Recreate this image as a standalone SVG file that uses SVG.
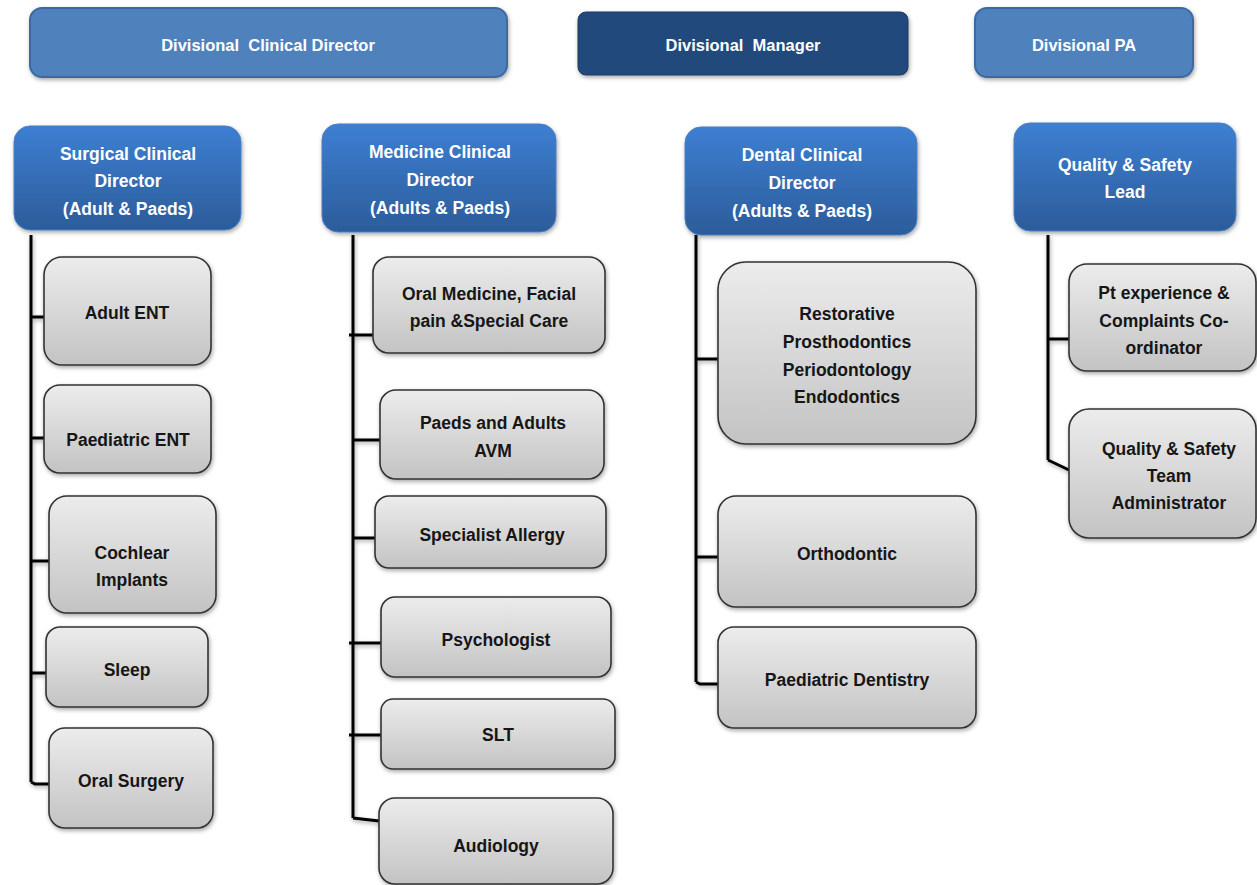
<svg xmlns="http://www.w3.org/2000/svg" width="1257" height="885" viewBox="0 0 1257 885">
<defs>
<linearGradient id="gBlue" x1="0" y1="0" x2="0" y2="1">
<stop offset="0" stop-color="#3d7fd2"/>
<stop offset="1" stop-color="#2c5c9a"/>
</linearGradient>
<linearGradient id="gGray" x1="0" y1="0" x2="0" y2="1">
<stop offset="0" stop-color="#ececec"/>
<stop offset="1" stop-color="#c3c3c3"/>
</linearGradient>
<filter id="sh" x="-10%" y="-10%" width="125%" height="130%">
<feDropShadow dx="1" dy="2" stdDeviation="2" flood-color="#000" flood-opacity="0.35"/>
</filter>
</defs>
<style>
.top{fill:#4f81bd;stroke:#3b6aa3;stroke-width:2}
.mgr{fill:#21487b;stroke:#1b3c66;stroke-width:1}
.hd{fill:url(#gBlue);stroke:#4a7fc2;stroke-width:1}
.ch{fill:url(#gGray);stroke:#333;stroke-width:1.6}
.tt{font-family:"Liberation Sans",Arial,sans-serif;font-weight:bold;font-size:16.5px;fill:#fff;text-anchor:middle;white-space:pre}
.ht{font-family:"Liberation Sans",Arial,sans-serif;font-weight:bold;font-size:17.5px;fill:#fff;text-anchor:middle}
.ct{font-family:"Liberation Sans",Arial,sans-serif;font-weight:bold;font-size:17.5px;fill:#161616;text-anchor:middle}
.ln{fill:none;stroke:#000;stroke-width:3}
</style>
<rect width="1257" height="885" fill="#fff"/>

<g id="connectors" filter="url(#sh)">
<path class="ln" d="M31 235 V782 M31 317 H44 M31 438 H44 M31 561 H49 M31 673 H46 M31 782 L35 784 H49"/>
<path class="ln" d="M353 235 V818 M349 335 H373 M353 440 H380 M353 538 H375 M349 643 H381 M349 735 H381 M353 818 L379 821"/>
<path class="ln" d="M696 235 V682 M696 359 H718 M696 557 H718 M696 682 L700 684 H718"/>
<path class="ln" d="M1048 235 V460 M1048 339 H1069 M1048 460 L1069 470"/>
</g>

<g id="divisional-clinical-director"><rect class="top" x="30" y="8" width="477" height="69" rx="12" filter="url(#sh)"/><text class="tt" x="268" y="51" xml:space="preserve">Divisional  Clinical Director</text></g>
<g id="divisional-manager"><rect class="mgr" x="578" y="12" width="330" height="63" rx="8" filter="url(#sh)"/><text class="tt" x="743" y="51" xml:space="preserve">Divisional  Manager</text></g>
<g id="divisional-pa"><rect class="top" x="975" y="8" width="218" height="69" rx="12" filter="url(#sh)"/><text class="tt" x="1084" y="51">Divisional PA</text></g>

<g id="surgical-cd"><rect class="hd" x="14" y="126" width="227" height="104" rx="16" filter="url(#sh)"/><text class="ht" x="128" y="160">Surgical Clinical</text><text class="ht" x="128" y="187">Director</text><text class="ht" x="128" y="215">(Adult &amp; Paeds)</text></g>
<g id="medicine-cd"><rect class="hd" x="322" y="124" width="234" height="108" rx="16" filter="url(#sh)"/><text class="ht" x="440" y="158">Medicine Clinical</text><text class="ht" x="440" y="186">Director</text><text class="ht" x="440" y="214">(Adults &amp; Paeds)</text></g>
<g id="dental-cd"><rect class="hd" x="685" y="127" width="232" height="108" rx="16" filter="url(#sh)"/><text class="ht" x="802" y="161">Dental Clinical</text><text class="ht" x="802" y="189">Director</text><text class="ht" x="802" y="217">(Adults &amp; Paeds)</text></g>
<g id="quality-lead"><rect class="hd" x="1014" y="123" width="222" height="108" rx="16" filter="url(#sh)"/><text class="ht" x="1125" y="171">Quality &amp; Safety</text><text class="ht" x="1125" y="198">Lead</text></g>

<g id="adult-ent"><rect class="ch" x="44" y="257" width="167" height="108" rx="18" filter="url(#sh)"/><text class="ct" x="127" y="319">Adult ENT</text></g>
<g id="paediatric-ent"><rect class="ch" x="44" y="385" width="167" height="88" rx="16" filter="url(#sh)"/><text class="ct" x="128" y="446">Paediatric ENT</text></g>
<g id="cochlear"><rect class="ch" x="49" y="496" width="167" height="117" rx="18" filter="url(#sh)"/><text class="ct" x="132" y="559">Cochlear</text><text class="ct" x="132" y="586">Implants</text></g>
<g id="sleep"><rect class="ch" x="46" y="627" width="162" height="80" rx="14" filter="url(#sh)"/><text class="ct" x="127" y="676">Sleep</text></g>
<g id="oral-surgery"><rect class="ch" x="49" y="728" width="164" height="100" rx="16" filter="url(#sh)"/><text class="ct" x="131" y="787">Oral Surgery</text></g>

<g id="oral-medicine"><rect class="ch" x="373" y="257" width="232" height="96" rx="16" filter="url(#sh)"/><text class="ct" x="489" y="300">Oral Medicine, Facial</text><text class="ct" x="489" y="327">pain &amp;Special Care</text></g>
<g id="avm"><rect class="ch" x="380" y="390" width="224" height="89" rx="16" filter="url(#sh)"/><text class="ct" x="493" y="429">Paeds and Adults</text><text class="ct" x="493" y="457">AVM</text></g>
<g id="allergy"><rect class="ch" x="375" y="496" width="231" height="72" rx="14" filter="url(#sh)"/><text class="ct" x="492" y="541">Specialist Allergy</text></g>
<g id="psychologist"><rect class="ch" x="381" y="597" width="230" height="80" rx="14" filter="url(#sh)"/><text class="ct" x="496" y="646">Psychologist</text></g>
<g id="slt"><rect class="ch" x="381" y="699" width="234" height="70" rx="12" filter="url(#sh)"/><text class="ct" x="498" y="741">SLT</text></g>
<g id="audiology"><rect class="ch" x="379" y="798" width="234" height="86" rx="16" filter="url(#sh)"/><text class="ct" x="496" y="852">Audiology</text></g>

<g id="restorative"><rect class="ch" x="718" y="262" width="258" height="182" rx="28" filter="url(#sh)"/><text class="ct" x="847" y="320">Restorative</text><text class="ct" x="847" y="348">Prosthodontics</text><text class="ct" x="847" y="376">Periodontology</text><text class="ct" x="847" y="403">Endodontics</text></g>
<g id="orthodontic"><rect class="ch" x="718" y="496" width="258" height="111" rx="18" filter="url(#sh)"/><text class="ct" x="847" y="560">Orthodontic</text></g>
<g id="paediatric-dentistry"><rect class="ch" x="718" y="627" width="258" height="101" rx="16" filter="url(#sh)"/><text class="ct" x="847" y="686">Paediatric Dentistry</text></g>

<g id="pt-experience"><rect class="ch" x="1069" y="264" width="187" height="107" rx="18" filter="url(#sh)"/><text class="ct" x="1164" y="299">Pt experience &amp;</text><text class="ct" x="1164" y="327">Complaints Co-</text><text class="ct" x="1164" y="354">ordinator</text></g>
<g id="qs-admin"><rect class="ch" x="1069" y="409" width="187" height="129" rx="20" filter="url(#sh)"/><text class="ct" x="1169" y="455">Quality &amp; Safety</text><text class="ct" x="1169" y="482">Team</text><text class="ct" x="1169" y="509">Administrator</text></g>
</svg>
